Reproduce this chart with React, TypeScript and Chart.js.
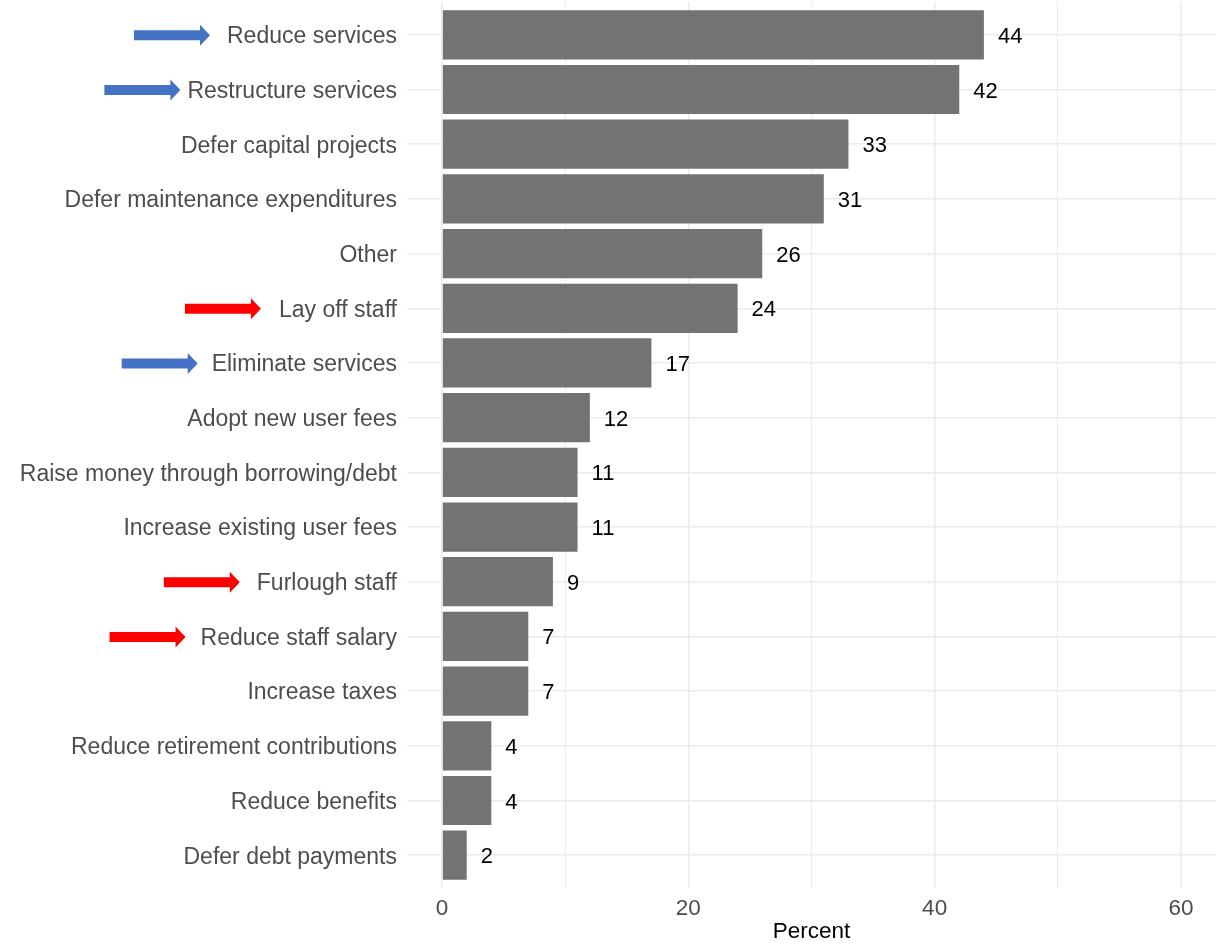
import React, { useEffect, useRef } from "react";
import { Chart, registerables } from "chart.js";

Chart.register(...registerables);

const categories: string[] = [
  "Reduce services",
  "Restructure services",
  "Defer capital projects",
  "Defer maintenance expenditures",
  "Other",
  "Lay off staff",
  "Eliminate services",
  "Adopt new user fees",
  "Raise money through borrowing/debt",
  "Increase existing user fees",
  "Furlough staff",
  "Reduce staff salary",
  "Increase taxes",
  "Reduce retirement contributions",
  "Reduce benefits",
  "Defer debt payments",
];

const percents: number[] = [44, 42, 33, 31, 26, 24, 17, 12, 11, 11, 9, 7, 7, 4, 4, 2];

const xTicks: number[] = [0, 10, 20, 30, 40, 50, 60];
const xLabelTicks: number[] = [0, 20, 40, 60];

// highlighted categories: label, colour, gap before text
const arrowLabels: string[] = [
  "Reduce services",
  "Restructure services",
  "Lay off staff",
  "Eliminate services",
  "Furlough staff",
  "Reduce staff salary",
];
const arrowColors: string[] = ["#4472C4", "#4472C4", "#FF0000", "#4472C4", "#FF0000", "#FF0000"];
const arrowGaps: number[] = [17, 7, 18, 14, 17, 15];

const FONT = "'Liberation Sans', Arial, sans-serif";
const LABEL_SIZE = 23;

export default function App() {
  const ref = useRef<HTMLCanvasElement | null>(null);

  useEffect(() => {
    if (!ref.current) return;
    const points = percents.map((v, i) => ({ x: v, y: i }));

    const valueLabels = {
      id: "valueLabels",
      afterDatasetsDraw(chart: any) {
        const ctx = chart.ctx;
        const meta = chart.getDatasetMeta(0);
        ctx.save();
        ctx.font = `22px ${FONT}`;
        ctx.fillStyle = "#000000";
        ctx.textAlign = "left";
        ctx.textBaseline = "middle";
        meta.data.forEach((bar: any, i: number) => {
          ctx.fillText(String(percents[i]), bar.x + 14, bar.y + 2);
        });
        ctx.restore();
      },
    };

    const arrows = {
      id: "arrows",
      afterDraw(chart: any) {
        const ctx = chart.ctx;
        const yScale = chart.scales.y;
        const labelRight = chart.chartArea.left - 10;
        ctx.save();
        ctx.font = `${LABEL_SIZE}px ${FONT}`;
        arrowLabels.forEach((lab, k) => {
          const idx = categories.indexOf(lab);
          const cy = yScale.getPixelForValue(idx) + 0.5;
          const w = ctx.measureText(lab).width;
          const tip = labelRight - w - arrowGaps[k];
          const len = 76;
          const headLen = 10;
          const shaftH = 10;
          const headH = 21;
          const x0 = tip - len;
          ctx.fillStyle = arrowColors[k];
          ctx.beginPath();
          ctx.moveTo(x0, cy - shaftH / 2);
          ctx.lineTo(tip - headLen, cy - shaftH / 2);
          ctx.lineTo(tip - headLen, cy - headH / 2);
          ctx.lineTo(tip, cy);
          ctx.lineTo(tip - headLen, cy + headH / 2);
          ctx.lineTo(tip - headLen, cy + shaftH / 2);
          ctx.lineTo(x0, cy + shaftH / 2);
          ctx.closePath();
          ctx.fill();
        });
        ctx.restore();
      },
    };

    const chart = new Chart(ref.current, {
      type: "bar",
      data: {
        datasets: [
          {
            data: points as any,
            backgroundColor: "#737373",
            borderWidth: 0,
            barPercentage: 0.9,
            categoryPercentage: 1,
          },
        ],
      },
      options: {
        indexAxis: "y",
        responsive: false,
        animation: false,
        layout: { padding: { top: 2, right: 7, left: 0, bottom: 0 } },
        plugins: {
          legend: { display: false },
          tooltip: { enabled: false },
        },
        scales: {
          x: {
            type: "linear",
            min: -2.85,
            max: 62.85,
            afterBuildTicks: (s: any) => {
              s.ticks = xTicks.map((v) => ({ value: v }));
            },
            afterFit: (s: any) => {
              s.height = 58;
              s.paddingLeft = 0;
              s.paddingRight = 0;
            },
            border: { display: false },
            grid: {
              color: "#EBEBEB",
              lineWidth: (c: any) => (xLabelTicks.includes(c.tick?.value) ? 1.5 : 1),
              drawTicks: false,
            },
            ticks: {
              padding: 7,
              color: "#4D4D4D",
              font: { family: FONT, size: 22.5 },
              callback: (v: any) => (xLabelTicks.includes(Number(v)) ? String(v) : ""),
            },
            title: {
              display: true,
              text: "Percent",
              color: "#000000",
              font: { family: FONT, size: 22.5 },
              padding: { top: 0, bottom: 1 },
            },
          },
          y: {
            type: "linear",
            reverse: true,
            offset: false,
            min: -0.6,
            max: categories.length - 1 + 0.6,
            afterBuildTicks: (s: any) => {
              s.ticks = categories.map((_, i) => ({ value: i }));
            },
            afterFit: (s: any) => {
              s.width = 407;
              s.paddingTop = 0;
              s.paddingBottom = 0;
            },
            border: { display: false },
            grid: {
              offset: false,
              color: "#EBEBEB",
              lineWidth: 1.5,
              drawTicks: false,
            },
            ticks: {
              padding: 10,
              labelOffset: 2,
              color: "#4D4D4D",
              font: { family: FONT, size: LABEL_SIZE },
              autoSkip: false,
              callback: (v: any) => categories[Number(v)] ?? "",
            },
          },
        },
      },
      plugins: [valueLabels, arrows],
    });
    return () => chart.destroy();
  }, []);

  return (
    <div style={{ position: "fixed", left: 0, top: 0, width: 1223, height: 946, background: "#fff" }}>
      <canvas ref={ref} width={1223} height={946} />
    </div>
  );
}
